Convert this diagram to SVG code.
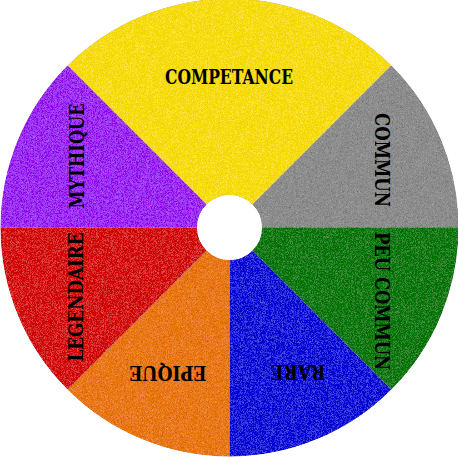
<svg xmlns="http://www.w3.org/2000/svg" width="458" height="458" viewBox="0 0 458 458">
  <defs>
    <filter id="grain" x="0" y="0" width="458" height="458" filterUnits="userSpaceOnUse">
      <feTurbulence type="fractalNoise" baseFrequency="2.2" numOctaves="1" seed="7" result="n"/>
      <feColorMatrix in="n" type="matrix" values="0.33 0.33 0.33 0 0  0.33 0.33 0.33 0 0  0.33 0.33 0.33 0 0  0 0 0 0 1" result="g"/>
      <feComposite in="SourceGraphic" in2="g" operator="arithmetic" k1="0" k2="1" k3="0.55" k4="-0.27" result="m"/>
      <feComposite in="m" in2="SourceGraphic" operator="in"/>
    </filter>
  </defs>
  <style>
    .lbl { font-family: "DejaVu Serif", "Liberation Serif", serif; font-weight: bold; font-size: 20px; fill: #000; text-anchor: middle; dominant-baseline: central; }
  </style>
  <rect width="458" height="458" fill="#ffffff"/>
  <g id="wheel" filter="url(#grain)">
    <g id="competance"><path d="M67.57,65.57 A229,229 0 0 1 391.43,65.57 L252.48,204.52 A32.5,32.5 0 0 0 206.52,204.52 Z" fill="#f6dc00"/></g>
    <g id="commun"><path d="M391.43,65.57 A229,229 0 0 1 458.5,227.5 L262,227.5 A32.5,32.5 0 0 0 252.48,204.52 Z" fill="#8c8c8c"/></g>
    <g id="peu-commun"><path d="M458.5,227.5 A229,229 0 0 1 391.43,389.43 L252.48,250.48 A32.5,32.5 0 0 0 262,227.5 Z" fill="#087a08"/></g>
    <g id="rare"><path d="M391.43,389.43 A229,229 0 0 1 229.5,456.5 L229.5,260 A32.5,32.5 0 0 0 252.48,250.48 Z" fill="#1414d8"/></g>
    <g id="epique"><path d="M229.5,456.5 A229,229 0 0 1 67.57,389.43 L206.52,250.48 A32.5,32.5 0 0 0 229.5,260 Z" fill="#e87810"/></g>
    <g id="legendaire"><path d="M67.57,389.43 A229,229 0 0 1 0.5,227.5 L197,227.5 A32.5,32.5 0 0 0 206.52,250.48 Z" fill="#d41010"/></g>
    <g id="mythique"><path d="M0.5,227.5 A229,229 0 0 1 67.57,65.57 L206.52,204.52 A32.5,32.5 0 0 0 197,227.5 Z" fill="#9a2ef2"/></g>
  </g>
  <g id="labels">
    <text class="lbl" transform="translate(229,77)" textLength="128" lengthAdjust="spacingAndGlyphs">COMPETANCE</text>
    <text class="lbl" transform="translate(382,160) rotate(90)" textLength="94" lengthAdjust="spacingAndGlyphs">COMMUN</text>
    <text class="lbl" transform="translate(382,301) rotate(90)" textLength="138" lengthAdjust="spacingAndGlyphs">PEU COMMUN</text>
    <text class="lbl" transform="translate(298,372) rotate(180)" textLength="55" lengthAdjust="spacingAndGlyphs">RARE</text>
    <text class="lbl" transform="translate(168,373) rotate(180)" textLength="77" lengthAdjust="spacingAndGlyphs">EPIQUE</text>
    <text class="lbl" transform="translate(76,297) rotate(270)" textLength="129" lengthAdjust="spacingAndGlyphs">LEGENDAIRE</text>
    <text class="lbl" transform="translate(77,156) rotate(270)" textLength="105" lengthAdjust="spacingAndGlyphs">MYTHIQUE</text>
  </g>
</svg>
